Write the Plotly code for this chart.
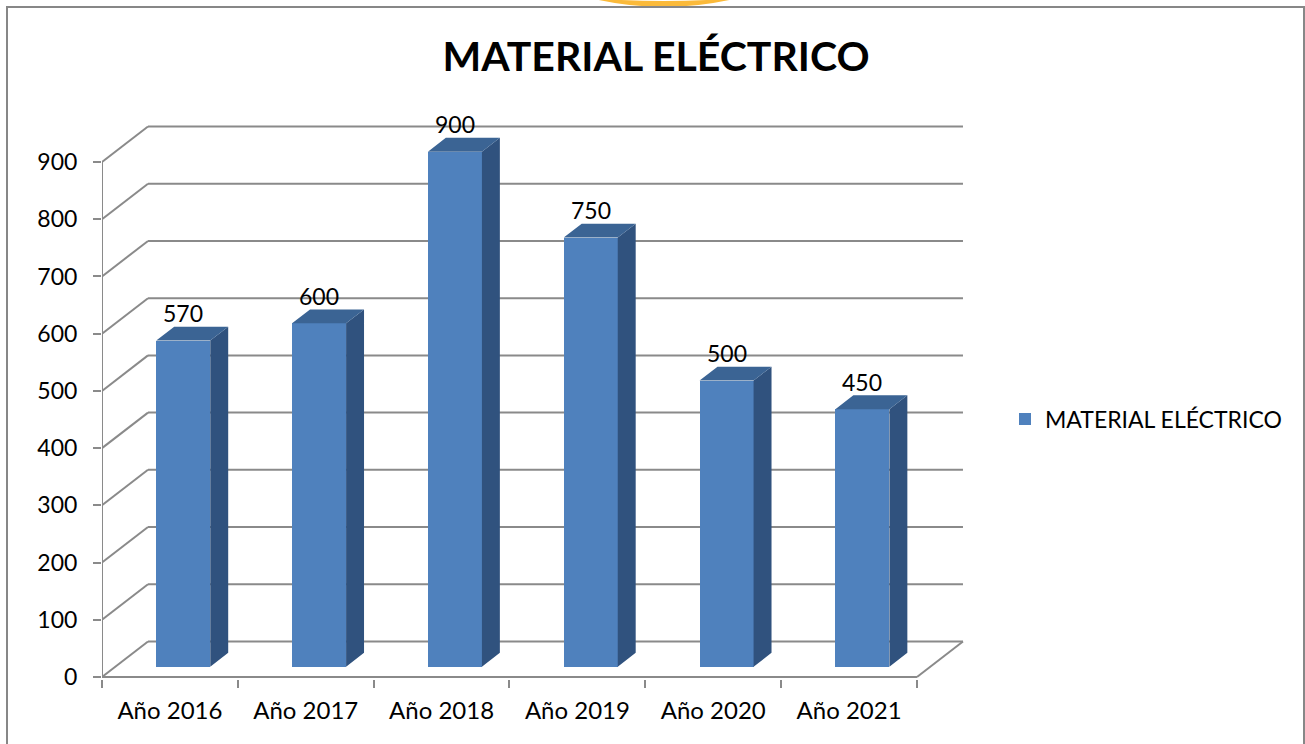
import plotly.graph_objects as go

# ---- data ----
categories = ["Año 2016", "Año 2017", "Año 2018", "Año 2019", "Año 2020", "Año 2021"]
values = [570, 600, 900, 750, 500, 450]
y_ticks = [0, 100, 200, 300, 400, 500, 600, 700, 800, 900]
series_name = "MATERIAL ELÉCTRICO"
title_text = "MATERIAL ELÉCTRICO"

# ---- layout geometry (pixels) ----
FIG_W, FIG_H = 1305, 744
M_L, M_R, M_T, M_B = 102, 339, 119, 65
PLOT_W = FIG_W - M_L - M_R
PLOT_H = FIG_H - M_T - M_B
PX_CAT = 135.83              # pixels per category on the front plane
PX_VAL = (677 - 162) / 900   # pixels per value unit
ZERO_PX = 677                # pixel row of value 0 on the front plane

x_lo = -0.5
x_hi = x_lo + PLOT_W / PX_CAT
y_lo = -((FIG_H - M_B) - ZERO_PX) / PX_VAL
y_hi = y_lo + PLOT_H / PX_VAL

# depth of the pseudo-3D box, in data units
DX = 46 / PX_CAT
DY = 35.5 / PX_VAL
F0, F1 = 0.29, 0.68          # front / back of the columns inside the depth
BAR_W = 0.3976

GRID = "#8a8a8a"
FRONT = "#4F81BD"
SIDE = "#30527E"
TOP = "#3B6494"
FONT = "Lato"

n = len(categories)
x_left, x_right = -0.5, n - 0.5

fig = go.Figure()

# ---- walls, floor and gridlines ----
shapes = []
line = dict(color=GRID, width=2)
for v in y_ticks:
    shapes.append(dict(type="line", xref="x", yref="y", x0=x_left, y0=v,
                       x1=x_left + DX, y1=v + DY, line=line, layer="below"))
    shapes.append(dict(type="line", xref="x", yref="y", x0=x_left + DX, y0=v + DY,
                       x1=x_right + DX, y1=v + DY, line=line, layer="below"))
# floor front edge and right edge
shapes.append(dict(type="line", xref="x", yref="y", x0=x_left, y0=0, x1=x_right, y1=0,
                   line=line, layer="below"))
shapes.append(dict(type="line", xref="x", yref="y", x0=x_right, y0=0, x1=x_right + DX, y1=DY,
                   line=line, layer="below"))
# vertical value axis
shapes.append(dict(type="line", xref="x", yref="y", x0=x_left, y0=0, x1=x_left, y1=max(y_ticks),
                   line=line, layer="below"))


# chart border and decorative arc above it (paper coords from pixels)
def px_x(p):
    return (p - M_L) / PLOT_W


def px_y(p):
    return ((FIG_H - M_B) - p) / PLOT_H


shapes.append(dict(type="path", xref="paper", yref="paper",
                   path=(f"M {px_x(590)},{px_y(-2)} Q {px_x(664)},{px_y(16)} {px_x(738)},{px_y(-2)} "
                         f"Q {px_x(664)},{px_y(4)} {px_x(590)},{px_y(-2)} Z"),
                   fillcolor="#FBBA3A", line=dict(width=0)))
shapes.append(dict(type="rect", xref="paper", yref="paper",
                   x0=px_x(7), y0=px_y(770), x1=px_x(1304), y1=px_y(7),
                   line=dict(color="#878787", width=2), fillcolor="rgba(0,0,0,0)"))

# ---- columns ----
base = F0 * DY
xs = [i + F0 * DX for i in range(n)]
fig.add_trace(go.Bar(x=xs, y=values, base=[base] * n, width=BAR_W,
                     marker=dict(color=FRONT, line=dict(width=0)),
                     name=series_name, showlegend=True, hoverinfo="skip"))

dd = F1 - F0
side_x, side_y, top_x, top_y = [], [], [], []
for xc, v in zip(xs, values):
    xl, xr = xc - BAR_W / 2, xc + BAR_W / 2
    yt = base + v
    side_x += [xr, xr + dd * DX, xr + dd * DX, xr, xr, None]
    side_y += [base, base + dd * DY, yt + dd * DY, yt, base, None]
    top_x += [xl, xl + dd * DX, xr + dd * DX, xr, xl, None]
    top_y += [yt, yt + dd * DY, yt + dd * DY, yt, yt, None]

fig.add_trace(go.Scatter(x=side_x, y=side_y, mode="lines", fill="toself", fillcolor=SIDE,
                         line=dict(width=0, color=SIDE), showlegend=False, hoverinfo="skip"))
fig.add_trace(go.Scatter(x=top_x, y=top_y, mode="lines", fill="toself", fillcolor=TOP,
                         line=dict(width=0, color=TOP), showlegend=False, hoverinfo="skip"))

# value labels above each column
annotations = []
for xc, v in zip(xs, values):
    annotations.append(dict(x=xc, y=base + v + dd * DY + 13.5 / PX_VAL, xref="x", yref="y",
                            text=str(v), showarrow=False, yanchor="middle",
                            font=dict(family=FONT, size=23, color="#000000")))

fig.update_layout(
    width=FIG_W, height=FIG_H,
    margin=dict(l=M_L, r=M_R, t=M_T, b=M_B, autoexpand=False),
    paper_bgcolor="white", plot_bgcolor="white",
    title=dict(text=f"<b>{title_text}</b>", x=656 / FIG_W, xanchor="center",
               y=1 - 57 / FIG_H, yanchor="middle", xref="container", yref="container",
               font=dict(family=FONT, size=41, color="#000000")),
    xaxis=dict(range=[x_lo, x_hi], tickmode="array", tickvals=list(range(n)), ticktext=categories,
               ticks="", showgrid=False, zeroline=False, showline=False, automargin=False,
               ticklabelstandoff=15, tickfont=dict(family=FONT, size=24, color="#000000"),
               minor=dict(tickmode="array", tickvals=[i - 0.5 for i in range(n + 1)],
                          ticks="outside", ticklen=8, tickwidth=2, tickcolor=GRID, showgrid=False),
               fixedrange=True),
    yaxis=dict(range=[y_lo, y_hi], tickmode="array", tickvals=y_ticks,
               ticks="outside", ticklen=8, tickwidth=2, tickcolor=GRID,
               showgrid=False, zeroline=False, showline=False, automargin=False,
               ticklabelstandoff=11, tickfont=dict(family=FONT, size=23, color="#000000"),
               fixedrange=True),
    legend=dict(x=px_x(1005), xanchor="left", y=px_y(419), yanchor="middle",
                font=dict(family=FONT, size=23, color="#000000"), bgcolor="rgba(0,0,0,0)",
                itemwidth=30),
    shapes=shapes,
    annotations=annotations,
    showlegend=True,
    bargap=0,
)

fig.write_html("out.html")
